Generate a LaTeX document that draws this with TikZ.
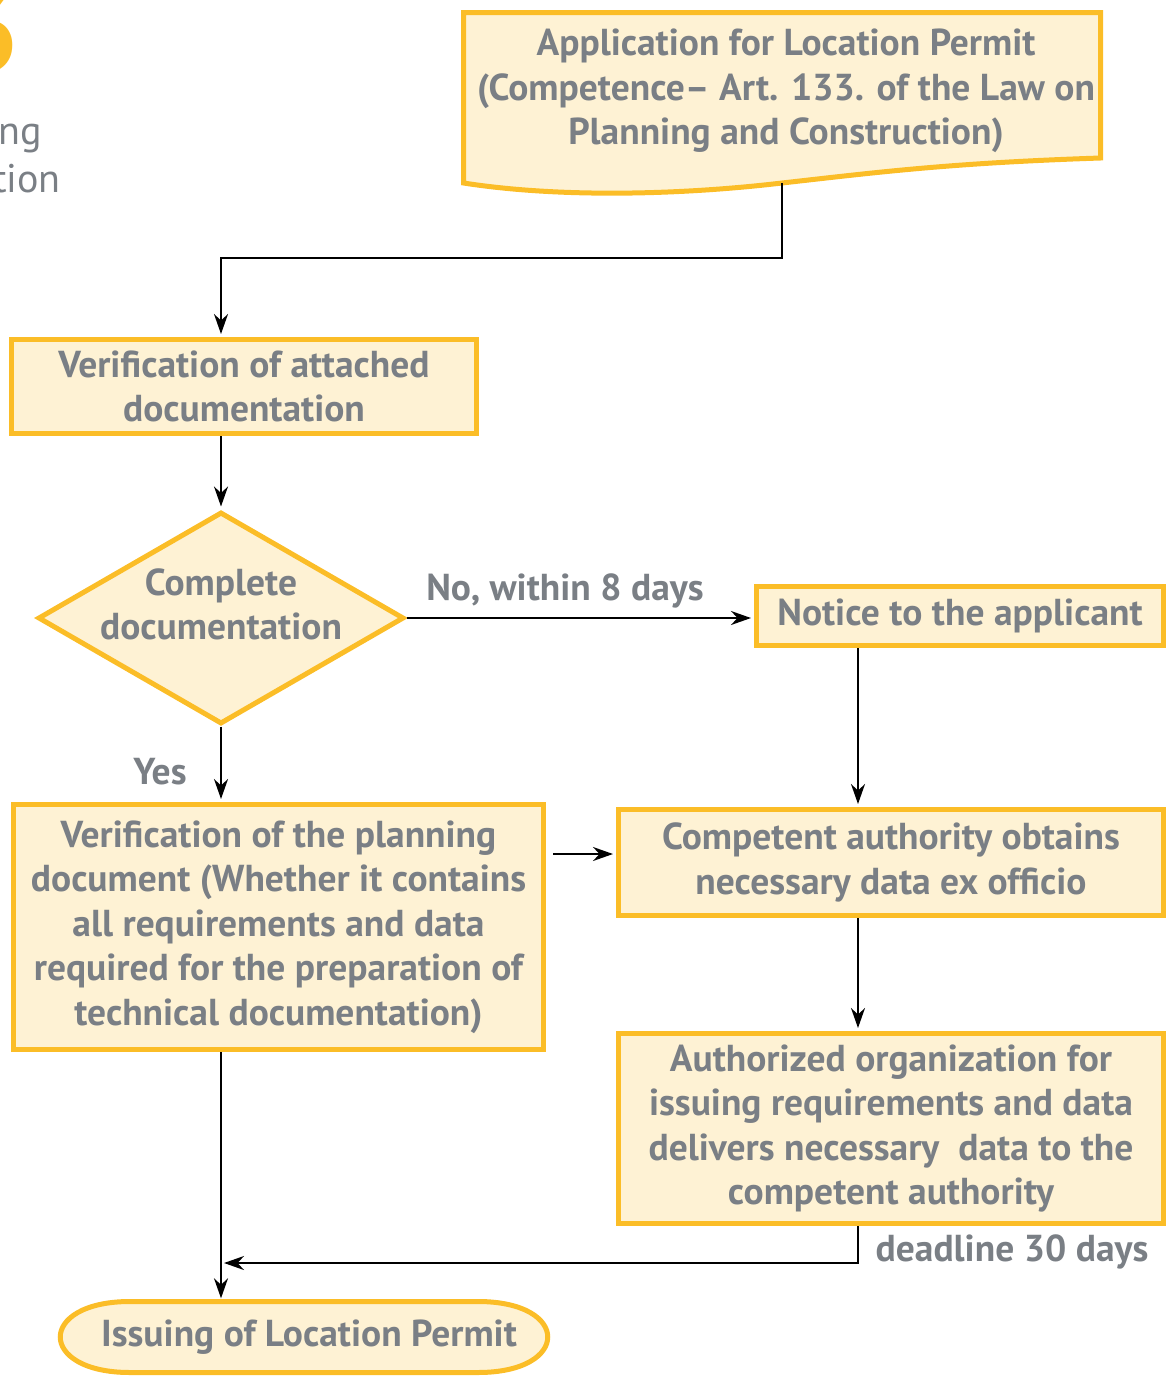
\documentclass[tikz,border=0pt]{standalone}
\usepackage{fontspec}
\setmainfont{PT Sans}
\usetikzlibrary{shapes.geometric}
\usetikzlibrary{positioning}
\usetikzlibrary{arrows.meta}
\definecolor{boxfill}{RGB}{254,242,212}
\definecolor{boxline}{RGB}{251,189,39}
\definecolor{textgray}{RGB}{122,127,133}

\begin{document}
\begin{tikzpicture}[x=1pt,y=-1pt,>={Stealth[length=20pt,width=14pt]},
	shorten >=3pt,
	main box/.style={rectangle,draw=boxline,fill=boxfill,line width=5pt,
		text=textgray,font=\bfseries\fontsize{37.5}{44.5}\selectfont,
		align=center,inner sep=0pt},
	plain text/.style={text=textgray,font=\bfseries\fontsize{37.5}{44.5}\selectfont,
		align=center,inner sep=0pt},
	link/.style={->,black,line width=2pt}]
	
	\useasboundingbox (0,0) rectangle (1170,1377);
	
	% cut-off parts of the page heading
	\node[text=boxline,font=\bfseries\fontsize{125}{125}\selectfont,
		anchor=south east,inner sep=0pt] (chapnum) at (22,74) {3};
	\node[text=textgray,font=\fontsize{40}{40}\selectfont,
		anchor=base east,inner sep=0pt] (headone) at (42,144) {ng};
	\node[text=textgray,font=\fontsize{40}{40}\selectfont,
		anchor=base east,inner sep=0pt] (headtwo) at (61,192) {tion};
	
	% application (document shape)
	\path[draw=boxline,fill=boxfill,line width=5pt]
	(463.5,12.5) -- (1100.5,12.5) -- (1100.5,158)
	.. controls (950,163) and (880,172) .. (782,183)
	.. controls (680,195) and (560,198) .. (463.5,183) -- cycle;
	\node[plain text] (app) at (786,91)
	{Application for Location Permit\\(Competence– Art. 133. of the Law on\\Planning and Construction)};
	\coordinate (appout) at (782,183);
	\coordinate (turn) at (221,258);
	
	\node[main box,minimum width=465pt,minimum height=94pt] (verif1) at (244,386.5)
	{Verification of attached\\documentation};
	
	\node[diamond,draw=boxline,fill=boxfill,line width=5pt,inner sep=0pt,
		minimum width=366pt,minimum height=212pt] (diam) at (221,618) {};
	\node[plain text] (diamtext) at (221,604.5) {Complete\\documentation};
	
	\node[main box,minimum width=407pt,minimum height=59pt] (notice) at (960,616)
	{Notice to the applicant};
	
	\node[main box,minimum width=530pt,minimum height=245pt] (verif2) at (278.5,927)
	{Verification of the planning\\document (Whether it contains\\all requirements and data\\required for the preparation of\\technical documentation)};
	
	\node[main box,minimum width=545pt,minimum height=106pt] (compet) at (891,862.5)
	{Competent authority obtains\\necessary data ex officio};
	
	\node[main box,minimum width=545pt,minimum height=190pt] (author) at (891,1128.5)
	{Authorized organization for\\issuing requirements and data\\delivers necessary~ data to the\\competent authority};
	
	% issuing (rounded ends)
	\path[draw=boxline,fill=boxfill,line width=5pt]
	(130,1301.5) -- (478,1301.5) .. controls (571,1301.5) and (571,1372.5) .. (478,1372.5)
	-- (130,1372.5) .. controls (37,1372.5) and (37,1301.5) .. (130,1301.5) -- cycle;
	\node[plain text,minimum width=485pt,minimum height=71pt] (issue) at (309,1337)
	{Issuing of Location Permit};
	
	% labels
	\node[plain text] (nolabel) at (565,591) {No, within 8 days};
	\node[plain text] (yeslabel) at (160,772) {Yes};
	\node[plain text] (deadlabel) at (1012,1252) {deadline 30 days};
	
	% connectors
	\coordinate (rline) at (858,0);
	\coordinate (side) at (553,854);
	\coordinate (back) at (221,1263);
	\draw[link] (appout) |- (turn) -- (turn |- verif1.north);
	\draw[link] (verif1.south -| diam) -- (diam.north);
	\draw[link] (diam.east) -- (diam.east -| notice.west);
	\draw[link] (diam.south) -- (diam.south |- verif2.north);
	\draw[link] (notice.south -| rline) -- (compet.north -| rline);
	\draw[link] (side) -- (side -| compet.west);
	\draw[link] (compet.south -| rline) -- (author.north -| rline);
	\draw[link] (author.south -| rline) |- (back);
	\draw[link] (verif2.south -| diam) -- (issue.north -| diam);
\end{tikzpicture}
\end{document}
